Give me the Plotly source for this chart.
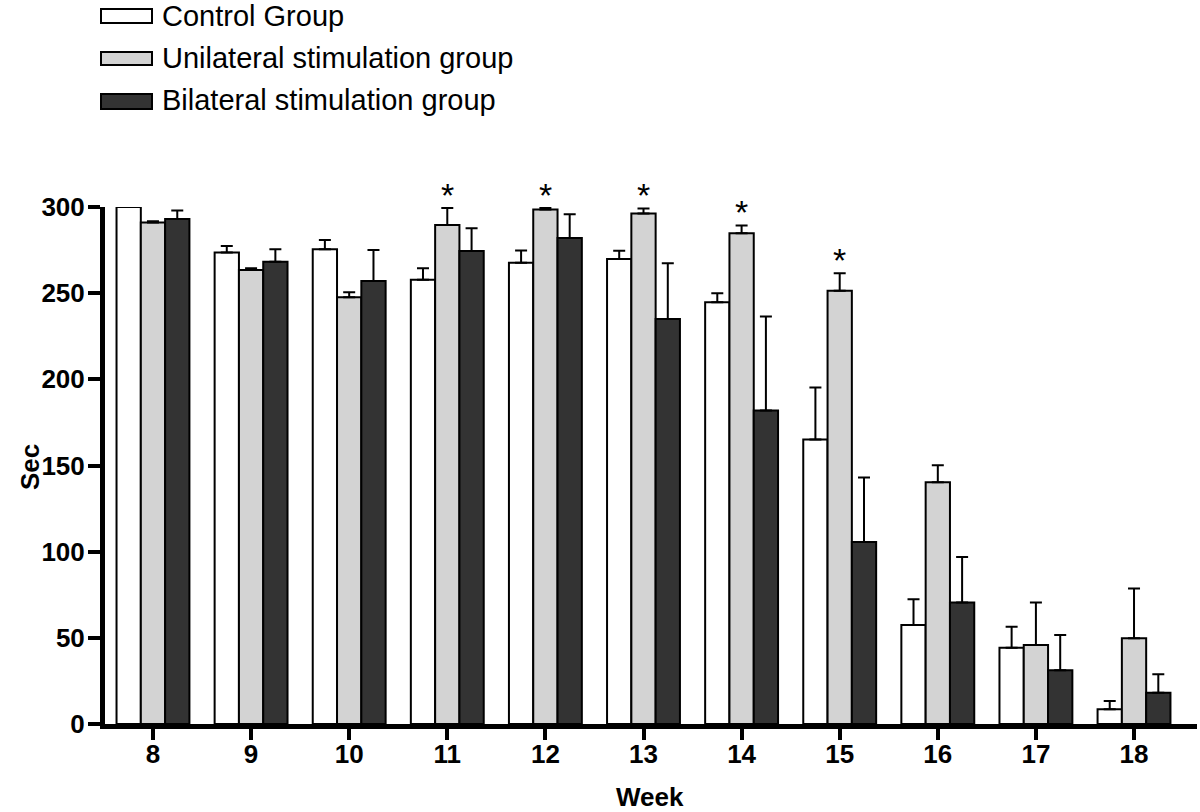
import plotly.graph_objects as go

weeks = [8, 9, 10, 11, 12, 13, 14, 15, 16, 17, 18]
week_labels = ["8", "9", "10", "11", "12", "13", "14", "15", "16", "17", "18"]

control = [300, 273.6, 275.5, 257.8, 267.6, 269.8, 244.7, 165.1, 57.4, 44.3, 8.5]
control_err = [0, 3.7, 5.4, 6.7, 7.2, 4.8, 5.2, 30.1, 15.0, 12.1, 4.8]

unilateral = [291, 263.4, 247.6, 289.6, 298.5, 296.3, 284.7, 251.4, 140.3, 45.8, 49.7]
unilateral_err = [0.8, 1.1, 2.9, 9.8, 0.9, 2.9, 4.6, 10.2, 9.8, 24.7, 28.9]

bilateral = [293, 268.2, 257.0, 274.4, 282.0, 235.0, 181.9, 105.6, 70.5, 31.2, 18.1]
bilateral_err = [5.0, 7.3, 18.0, 13.2, 13.8, 32.4, 54.5, 37.4, 26.4, 20.4, 10.8]

significant_weeks = [11, 12, 13, 14, 15]

series_names = ["Control Group", "Unilateral stimulation group", "Bilateral stimulation group"]
fills = ["#ffffff", "#d3d3d3", "#333333"]

fig = go.Figure()
for name, vals, errs, fill in zip(series_names, [control, unilateral, bilateral],
                                  [control_err, unilateral_err, bilateral_err], fills):
    fig.add_trace(go.Bar(
        x=weeks, y=vals, name=name,
        marker=dict(color=fill, line=dict(color="#000000", width=2)),
        error_y=dict(type="data", symmetric=False, array=errs, arrayminus=[0] * len(errs),
                     color="#000000", thickness=2, width=6),
        showlegend=False,
    ))

# significance stars above unilateral bars
for w in significant_weeks:
    i = weeks.index(w)
    fig.add_annotation(x=w, y=unilateral[i] + unilateral_err[i], text="*",
                       showarrow=False, yanchor="bottom", yshift=-8,
                       font=dict(size=34, color="#000000", family="Liberation Sans"))

# custom legend (boxes + labels) at top-left, in paper coordinates
L, R, T, B = 105, 1197, 207, 724
def px_x(p):
    return (p - L) / (R - L)
def px_y(p):
    return (B - p) / (B - T)

legend_rows = [(9, 23, 16), (52, 65, 58), (94, 109, 100)]
for (y0, y1, yc), fill, name in zip(legend_rows, fills, series_names):
    fig.add_shape(type="rect", xref="paper", yref="paper",
                  x0=px_x(101), x1=px_x(152), y0=px_y(y1), y1=px_y(y0),
                  fillcolor=fill, line=dict(color="#000000", width=2))
    fig.add_annotation(xref="paper", yref="paper", x=px_x(160), y=px_y(yc),
                       text=name, showarrow=False, xanchor="left", yanchor="middle",
                       font=dict(size=29, color="#000000", family="Liberation Sans, Arial"))

# axis titles as annotations for precise placement
fig.add_annotation(xref="paper", yref="paper", x=px_x(650), y=px_y(797),
                   text="Week", showarrow=False, xanchor="center", yanchor="middle",
                   font=dict(size=26, weight="bold", color="#000000", family="Liberation Sans, Arial"))
fig.add_annotation(xref="paper", yref="paper", x=px_x(30), y=px_y(467),
                   text="Sec", showarrow=False, textangle=-90, xanchor="center", yanchor="middle",
                   font=dict(size=26, weight="bold", color="#000000", family="Liberation Sans, Arial"))

fig.update_layout(
    width=1200, height=812,
    margin=dict(l=L, r=1200 - R, t=T, b=812 - B, autoexpand=False),
    paper_bgcolor="#ffffff", plot_bgcolor="#ffffff",
    barmode="group", bargap=0.257, bargroupgap=0,
    font=dict(family="Liberation Sans, Arial", color="#000000"),
    xaxis=dict(
        range=[7.511, 18.642], tickmode="array", tickvals=weeks, ticktext=week_labels,
        showgrid=False, zeroline=False, showline=True, linewidth=5, linecolor="#000000",
        ticks="outside", ticklen=11, tickwidth=4, tickcolor="#000000", automargin=False,
        ticklabelstandoff=-8,
        tickfont=dict(size=26, weight="bold", family="Liberation Sans Narrow, Liberation Sans, Arial"),
    ),
    yaxis=dict(
        range=[0, 300], tickmode="array", tickvals=[0, 50, 100, 150, 200, 250, 300],
        showgrid=False, zeroline=False, showline=True, linewidth=5, linecolor="#000000",
        ticks="outside", ticklen=12, tickwidth=4, tickcolor="#000000", automargin=False,
        ticklabelstandoff=-2,
        tickfont=dict(size=26, weight="bold"),
    ),
)

fig.write_html("out.html", config={"displayModeBar": False},
               post_script="document.body.style.margin='0';document.body.style.overflow='hidden';")
